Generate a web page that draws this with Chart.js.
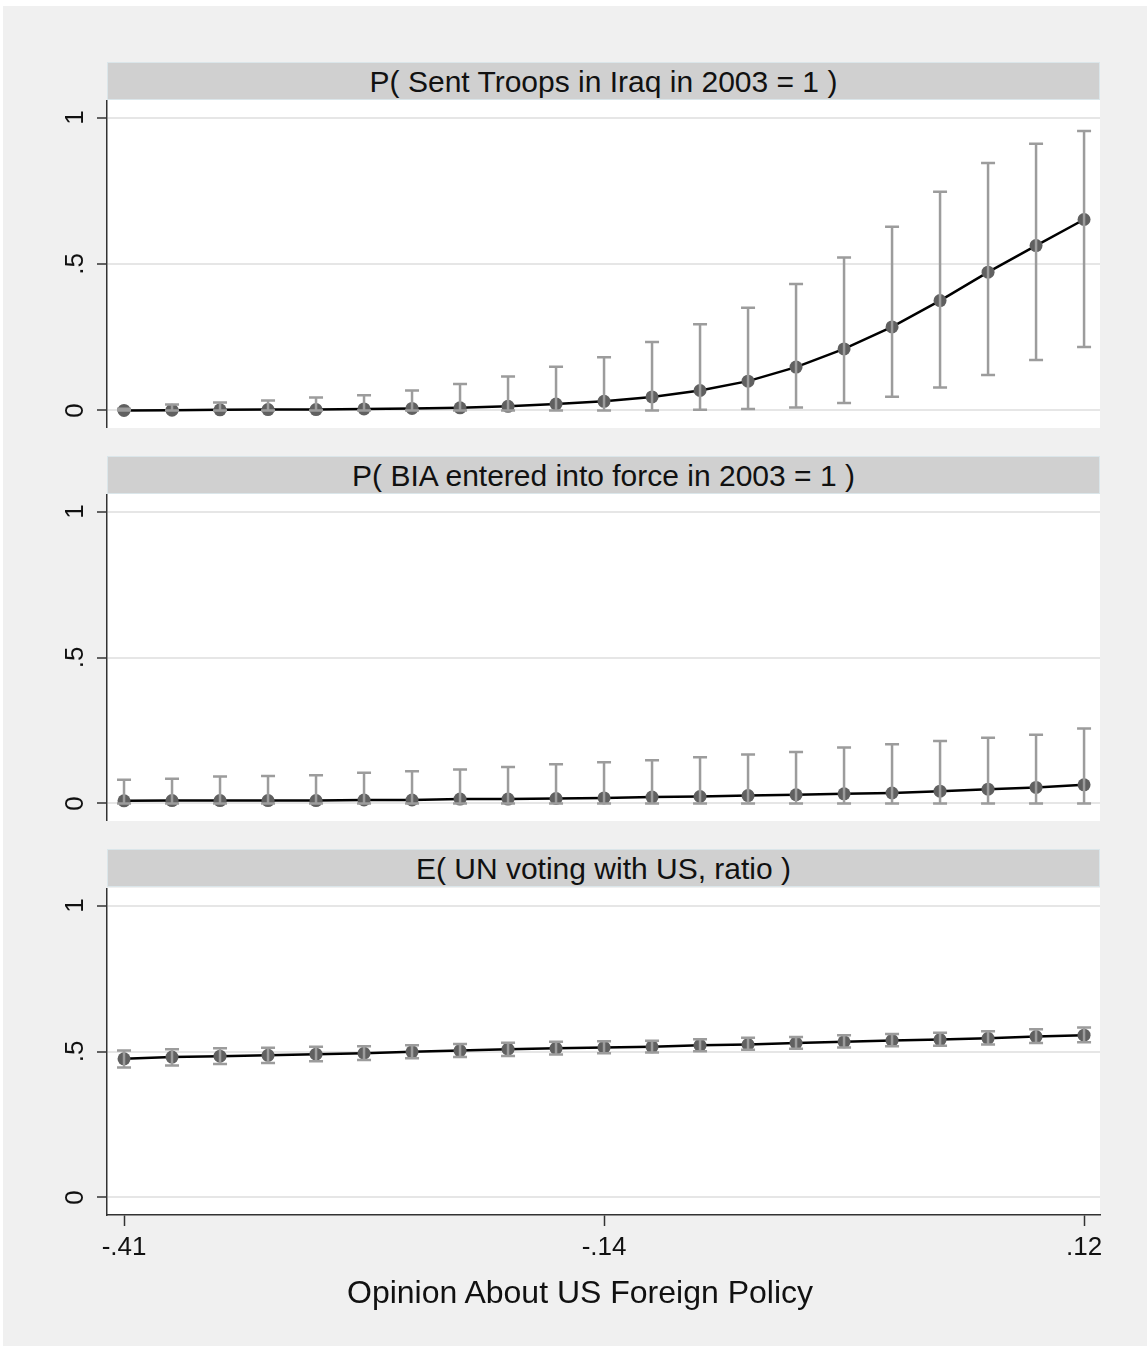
<!DOCTYPE html>
<html>
<head>
<meta charset="utf-8">
<script src="https://cdn.jsdelivr.net/npm/chart.js@4.4.0/dist/chart.umd.min.js"></script>
<style>
    body { margin: 0; background: #fff; font-family: "Liberation Sans", Arial, sans-serif; }
    #frame { position: absolute; left: 3px; top: 6px; width: 1144px; height: 1340px; background: #f0f0f0; }
    .strip { position: absolute; left: 107px; width: 991px; height: 36px; background: #d0d0d0; border: 1px solid #dbe6ea;
             text-align: center; font-size: 30px; line-height: 37px; color: #111; }
    #xtitle { position: absolute; left: 0; width: 1160px; top: 1272px; height: 40px; line-height: 40px;
              text-align: center; font-size: 32px; color: #111; }
    canvas { position: absolute; left: 0; }
</style>
</head>
<body>
<div id="frame"></div>
<div class="strip" style="top:62px">P( Sent Troops in Iraq in 2003 = 1 )</div>
<div class="strip" style="top:456px">P( BIA entered into force in 2003 = 1 )</div>
<div class="strip" style="top:849px">E( UN voting with US, ratio )</div>
<canvas id="c1" width="1147" height="328" style="top:100px"></canvas>
<canvas id="c2" width="1147" height="327" style="top:494px"></canvas>
<canvas id="c3" width="1147" height="458" style="top:888px"></canvas>
<div id="xtitle">Opinion About US Foreign Policy</div>
<script>
const FONT = '"Liberation Sans", Arial, sans-serif';

// opinion about US foreign policy (x)
const xVals = [-0.41, -0.3835, -0.357, -0.3305, -0.304, -0.2775, -0.251, -0.2245, -0.198, -0.1715, -0.145,
    -0.1185, -0.092, -0.0655, -0.039, -0.0125, 0.014, 0.0405, 0.067, 0.0935, 0.12];
const xTickVals = [-0.41, -0.145, 0.12];
const xTickLabels = ['-.41', '-.14', '.12'];
const yTickVals = [0, 0.5, 1];
const yTickLabels = ['0', '.5', '1'];

// P( Sent Troops in Iraq in 2003 = 1 )
const troopsMean = [0.000, 0.001, 0.002, 0.003, 0.003, 0.005, 0.007, 0.009, 0.014, 0.022, 0.031,
    0.046, 0.068, 0.100, 0.148, 0.210, 0.285, 0.375, 0.472, 0.563, 0.652];
const troopsUpper = [0.006, 0.020, 0.027, 0.034, 0.044, 0.052, 0.068, 0.090, 0.116, 0.149, 0.182,
    0.234, 0.294, 0.351, 0.432, 0.522, 0.627, 0.747, 0.845, 0.911, 0.954];
const troopsLower = [0, 0, 0, 0, 0, 0, 0, 0, 0, 0, 0,
    0, 0.002, 0.005, 0.010, 0.025, 0.047, 0.078, 0.121, 0.172, 0.217];

// P( BIA entered into force in 2003 = 1 )
const biaMean = [0.009, 0.010, 0.010, 0.010, 0.010, 0.012, 0.012, 0.015, 0.015, 0.017, 0.019,
    0.022, 0.024, 0.027, 0.030, 0.033, 0.036, 0.042, 0.049, 0.055, 0.064];
const biaUpper = [0.081, 0.085, 0.092, 0.094, 0.097, 0.105, 0.110, 0.116, 0.125, 0.134, 0.141,
    0.148, 0.158, 0.168, 0.176, 0.192, 0.203, 0.214, 0.225, 0.235, 0.257];
const biaLower = [0, 0, 0, 0, 0, 0, 0, 0, 0, 0, 0,
    0, 0, 0, 0, 0, 0, 0, 0, 0, 0];

// E( UN voting with US, ratio )
const unMean = [0.475, 0.481, 0.484, 0.487, 0.491, 0.494, 0.499, 0.503, 0.508, 0.511, 0.514,
    0.516, 0.521, 0.524, 0.529, 0.533, 0.538, 0.541, 0.545, 0.551, 0.556];
const unUpper = [0.503, 0.508, 0.511, 0.513, 0.516, 0.518, 0.521, 0.526, 0.530, 0.533, 0.535,
    0.537, 0.542, 0.547, 0.550, 0.556, 0.560, 0.564, 0.569, 0.576, 0.582];
const unLower = [0.445, 0.452, 0.457, 0.461, 0.467, 0.471, 0.477, 0.481, 0.485, 0.490, 0.494,
    0.497, 0.501, 0.506, 0.509, 0.514, 0.518, 0.520, 0.524, 0.529, 0.532];

const plotBg = {
    id: 'plotBg',
    beforeDraw(chart) {
        const { ctx, chartArea: a } = chart;
        ctx.save();
        ctx.fillStyle = '#fff';
        ctx.fillRect(a.left, a.top, a.right - a.left, a.bottom - a.top);
        ctx.restore();
    }
};

// rotated y labels, Stata style
const yLabels = {
    id: 'yLabels',
    afterDraw(chart) {
        const { ctx, scales: { y } } = chart;
        ctx.save();
        ctx.fillStyle = '#111';
        ctx.font = '26px ' + FONT;
        ctx.textAlign = 'center';
        ctx.textBaseline = 'middle';
        yTickVals.forEach((v, i) => {
            ctx.save();
            ctx.translate(76, y.getPixelForValue(v));
            ctx.rotate(-Math.PI / 2);
            ctx.fillText(yTickLabels[i], 0, 0);
            ctx.restore();
        });
        ctx.restore();
    }
};

function errorBars(lower, upper) {
    return {
        id: 'errorBars',
        afterDatasetsDraw(chart) {
            const { ctx, scales: { x, y } } = chart;
            const cap = 7;
            ctx.save();
            ctx.strokeStyle = '#9c9c9c';
            ctx.lineWidth = 2.5;
            xVals.forEach((xv, i) => {
                const px = x.getPixelForValue(xv);
                const lo = y.getPixelForValue(lower[i]);
                const hi = y.getPixelForValue(upper[i]);
                ctx.beginPath();
                ctx.moveTo(px, lo); ctx.lineTo(px, hi);
                ctx.moveTo(px - cap, lo); ctx.lineTo(px + cap, lo);
                ctx.moveTo(px - cap, hi); ctx.lineTo(px + cap, hi);
                ctx.stroke();
            });
            ctx.restore();
        }
    };
}

function makePanel(id, mean, lower, upper, withXAxis) {
    const xScale = {
        type: 'linear',
        min: -0.4194,
        max: 0.1288,
        display: withXAxis,
        afterBuildTicks: s => { s.ticks = xTickVals.map(v => ({ value: v })); },
        afterFit: s => { s.height = withXAxis ? 131 : 0; },
        ticks: {
            autoSkip: false, maxRotation: 0, padding: 6, color: '#111',
            font: { size: 26, family: FONT },
            callback: (v, i) => xTickLabels[i]
        },
        grid: { drawOnChartArea: false, drawTicks: true, tickLength: 11, tickColor: '#333', tickWidth: 1.5 },
        border: { display: true, color: '#333', width: 1.5 }
    };

    return new Chart(document.getElementById(id), {
        type: 'line',
        data: {
            datasets: [{
                data: xVals.map((x, i) => ({ x, y: mean[i] })),
                borderColor: '#000',
                borderWidth: 2.5,
                pointRadius: 6.5,
                pointBackgroundColor: '#606060',
                pointBorderWidth: 0,
                tension: 0
            }]
        },
        options: {
            responsive: false,
            animation: false,
            layout: { autoPadding: false, padding: { left: 0, right: 47, top: 0, bottom: 0 } },
            plugins: { legend: { display: false }, tooltip: { enabled: false } },
            scales: {
                x: xScale,
                y: {
                    min: -0.06,
                    max: 1.06,
                    afterBuildTicks: s => { s.ticks = yTickVals.map(v => ({ value: v })); },
                    afterFit: s => { s.width = 107; },
                    ticks: { display: false },
                    grid: { color: '#e6e6e6', lineWidth: 2, drawTicks: true, tickLength: 10, tickColor: '#333', tickWidth: 1.5 },
                    border: { display: true, color: '#333', width: 1.5 }
                }
            }
        },
        plugins: [plotBg, yLabels, errorBars(lower, upper)]
    });
}

makePanel('c1', troopsMean, troopsLower, troopsUpper, false);
makePanel('c2', biaMean, biaLower, biaUpper, false);
makePanel('c3', unMean, unLower, unUpper, true);
</script>
</body>
</html>
